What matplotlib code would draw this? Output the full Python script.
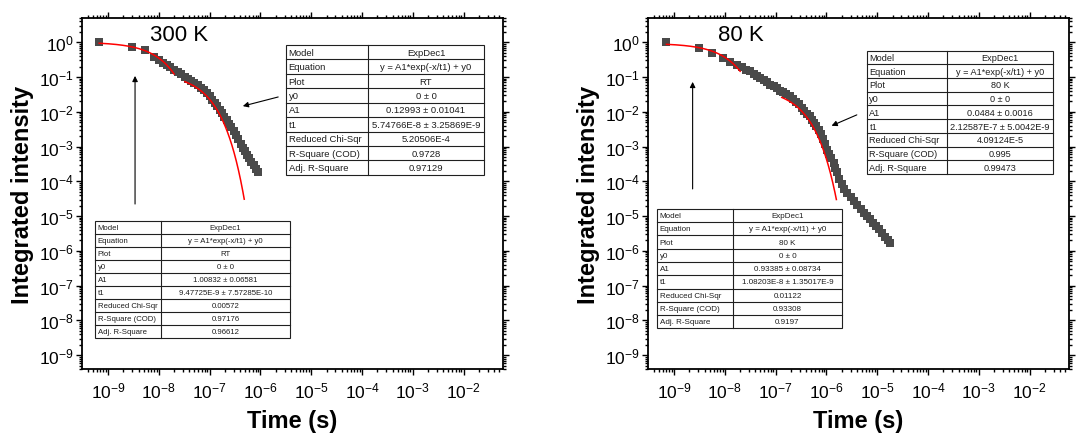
import numpy as np
import matplotlib
matplotlib.use("Agg")
import matplotlib.pyplot as plt
from matplotlib.ticker import LogLocator, NullFormatter, FixedLocator, LogFormatterSciNotation
from matplotlib.patches import Rectangle

plt.rcParams['font.family'] = ['Liberation Sans', 'DejaVu Sans']
plt.rcParams['mathtext.default'] = 'regular'

# ---------------- decay data ----------------
time_300K = [6.7e-10, 2.92e-9, 5.34e-9, 8.17e-9, 1.0e-8, 1.21e-8, 1.42e-8, 1.67e-8,
             2.0e-8, 2.34e-8, 2.75e-8, 3.25e-8, 3.75e-8, 4.34e-8, 5.0e-8, 5.84e-8,
             6.67e-8, 7.67e-8, 8.76e-8, 1.0e-7, 1.13e-7, 1.25e-7, 1.42e-7, 1.58e-7,
             1.75e-7, 1.96e-7, 2.17e-7, 2.42e-7, 2.67e-7, 3.0e-7, 3.34e-7, 3.67e-7,
             4.09e-7, 4.5e-7, 5.0e-7, 5.5e-7, 6.09e-7, 6.67e-7, 7.34e-7, 8.09e-7,
             9.0e-7]
intensity_300K = [1.0, 0.73, 0.59, 0.37, 0.31, 0.26, 0.22, 0.19,
                  0.16, 0.14, 0.12, 0.10, 0.088, 0.078, 0.068, 0.058,
                  0.049, 0.042, 0.035, 0.028, 0.022, 0.018, 0.0145, 0.0115,
                  0.0093, 0.0073, 0.0058, 0.0045, 0.0036, 0.0028, 0.0021, 0.0016,
                  0.0012, 9.2e-4, 7.3e-4, 5.8e-4, 4.6e-4, 3.7e-4, 2.9e-4, 2.3e-4,
                  1.8e-4]

time_80K = [7.1e-10, 3.09e-9, 5.67e-9, 9.09e-9, 1.27e-8, 1.75e-8, 2.17e-8, 2.59e-8,
            3.09e-8, 3.67e-8, 4.34e-8, 5.0e-8, 5.84e-8, 6.84e-8, 7.92e-8, 9.17e-8,
            1.06e-7, 1.23e-7, 1.42e-7, 1.63e-7, 1.88e-7, 2.17e-7, 2.5e-7, 2.84e-7,
            3.25e-7, 3.67e-7, 4.17e-7, 4.67e-7, 5.17e-7, 5.75e-7, 6.34e-7, 7.0e-7,
            7.76e-7, 8.59e-7, 9.34e-7, 1.02e-6, 1.13e-6, 1.25e-6, 1.38e-6, 1.5e-6,
            1.63e-6, 1.79e-6, 2.0e-6, 2.25e-6, 2.59e-6, 3.0e-6, 3.5e-6, 4.09e-6,
            4.75e-6, 5.5e-6, 6.34e-6, 7.26e-6, 8.34e-6, 9.59e-6, 1.1e-5, 1.25e-5,
            1.42e-5, 1.6e-5, 1.79e-5]
intensity_80K = [1.0, 0.68, 0.49, 0.35, 0.28, 0.225, 0.19, 0.165,
                 0.145, 0.125, 0.107, 0.094, 0.083, 0.071, 0.061, 0.054,
                 0.047, 0.041, 0.036, 0.032, 0.028, 0.023, 0.019, 0.0165,
                 0.013, 0.0107, 0.0088, 0.0075, 0.0060, 0.0047, 0.0038, 0.0030,
                 0.0023, 0.0016, 0.00115, 8.2e-4, 6.3e-4, 4.7e-4, 3.4e-4, 2.4e-4,
                 1.8e-4, 1.2e-4, 8.2e-5, 6.0e-5, 4.6e-5, 3.5e-5, 2.7e-5, 2.1e-5,
                 1.6e-5, 1.25e-5, 1.0e-5, 8.0e-6, 6.4e-6, 5.2e-6, 4.2e-6, 3.2e-6,
                 2.5e-6, 2.0e-6, 1.65e-6]

# ---------------- ExpDec1 fit results: y = A1*exp(-x/t1) + y0 ----------------
# order: y0, y0_err, A1, A1_err, t1, t1_err, chi2, r2, adj_r2, t_from, t_to
fit_300K_fast = [0.0, 0.0, 1.00832, 0.06581, 9.47725e-9, 7.57285e-10,
                 0.00572, 0.97176, 0.96612, 6.7e-10, 2.0e-8]
fit_300K_slow = [0.0, 0.0, 0.12993, 0.01041, 5.74766e-8, 3.25869e-9,
                 5.20506e-4, 0.9728, 0.97129, 3.25e-8, 4.8e-7]
fit_80K_fast = [0.0, 0.0, 0.93385, 0.08734, 1.08203e-8, 1.35017e-9,
                0.01122, 0.93308, 0.9197, 7.1e-10, 2.0e-8]
fit_80K_slow = [0.0, 0.0, 0.0484, 0.0016, 2.12587e-7, 5.0042e-9,
                4.09124e-5, 0.995, 0.99473, 1.32e-7, 1.57e-6]

# axis ranges and decade ticks
XLIM = (3.07e-10, 5.97e-2)
YLIM = (4e-10, 5.0)
X_TICKS = [1e-9, 1e-8, 1e-7, 1e-6, 1e-5, 1e-4, 1e-3, 1e-2]
Y_TICKS = [1e-9, 1e-8, 1e-7, 1e-6, 1e-5, 1e-4, 1e-3, 1e-2, 1e-1, 1e0]
MARKER_COLOR = '#4a4a4a'
TEXT_COLOR = '#1e1e1e'


def origin_fmt(v):
    """Number formatting in the style of the fit report."""
    if v != 0 and abs(v) < 1e-3:
        mant, exp = f"{v:.5E}".split('E')
        mant = mant.rstrip('0').rstrip('.')
        return f"{mant}E{int(exp)}"
    return f"{v:g}"


def report_rows(fit, plot_name):
    y0, y0e, a1, a1e, t1, t1e, chi2, r2, adj = fit[:9]
    return [("Model", "ExpDec1"),
            ("Equation", "y = A1*exp(-x/t1) + y0"),
            ("Plot", plot_name),
            ("y0", f"{origin_fmt(y0)} ± {origin_fmt(y0e)}"),
            ("A1", f"{origin_fmt(a1)} ± {origin_fmt(a1e)}"),
            ("t1", f"{origin_fmt(t1)} ± {origin_fmt(t1e)}"),
            ("Reduced Chi-Sqr", origin_fmt(chi2)),
            ("R-Square (COD)", origin_fmt(r2)),
            ("Adj. R-Square", origin_fmt(adj))]


def draw_report(ax, rows, x0, x1, xs, y0, y1, fs):
    """Draw a boxed two-column fit report in axes-fraction coordinates."""
    n = len(rows)
    rh = (y1 - y0) / n
    kw = dict(transform=ax.transAxes, clip_on=False, zorder=5)
    ax.add_patch(Rectangle((x0, y0), x1 - x0, y1 - y0, fill=True, fc='white',
                           ec='#202020', lw=0.8, **kw))
    ax.plot([xs, xs], [y0, y1], color='#202020', lw=0.8, **kw)
    for i in range(1, n):
        yy = y1 - i * rh
        ax.plot([x0, x1], [yy, yy], color='#202020', lw=0.8, **kw)
    for i, (name, val) in enumerate(rows):
        yc = y1 - (i + 0.5) * rh
        ax.text(x0 + 0.006, yc, name, ha='left', va='center', fontsize=fs,
                color=TEXT_COLOR, transform=ax.transAxes, zorder=6)
        ax.text((xs + x1) / 2, yc, val, ha='center', va='center', fontsize=fs,
                color=TEXT_COLOR, transform=ax.transAxes, zorder=6)


def fit_curve(ax, fit):
    y0, _, a1, _, t1, _ = fit[:6]
    t = np.logspace(np.log10(fit[9]), np.log10(fit[10]), 300)
    ax.plot(t, a1 * np.exp(-t / t1) + y0, color='red', lw=1.1, zorder=4)


def style_axes(ax):
    ax.set_xscale('log')
    ax.set_yscale('log')
    ax.set_xlim(*XLIM)
    ax.set_ylim(*YLIM)
    ax.xaxis.set_major_locator(FixedLocator(X_TICKS))
    ax.yaxis.set_major_locator(FixedLocator(Y_TICKS))
    for axis in (ax.xaxis, ax.yaxis):
        axis.set_major_formatter(LogFormatterSciNotation())
        axis.set_minor_locator(LogLocator(base=10, subs=np.arange(2, 10), numticks=200))
        axis.set_minor_formatter(NullFormatter())
    ax.tick_params(which='both', direction='out', top=True, right=True,
                   width=1.0, labelsize=12.5, colors='black')
    ax.tick_params(which='major', length=4.5)
    ax.tick_params(which='minor', length=2.5)
    ax.tick_params(axis='x', pad=4)
    ax.tick_params(axis='y', pad=1.5)
    for sp in ax.spines.values():
        sp.set_linewidth(1.3)
    ax.set_xlabel('Time (s)', fontsize=17, fontweight='bold')
    ax.set_ylabel('Integrated intensity', fontsize=17, fontweight='bold')
    ax.xaxis.set_label_coords(0.5, -0.115)
    ax.yaxis.set_label_coords(-0.115, 0.5)


def arrow(ax, tail, head):
    ax.annotate('', xy=head, xytext=tail, xycoords='axes fraction',
                textcoords='axes fraction',
                arrowprops=dict(arrowstyle='-|>', color='black', lw=0.8,
                                mutation_scale=8, shrinkA=0, shrinkB=0))


fig = plt.figure(figsize=(10.81, 4.35), dpi=100)
W, H = 1081, 435
ax1 = fig.add_axes([82 / W, 65 / H, 421 / W, 351 / H])
ax2 = fig.add_axes([648 / W, 65 / H, 421 / W, 351 / H])

# ---- 300 K panel ----
style_axes(ax1)
ax1.plot(time_300K, intensity_300K, 's', color=MARKER_COLOR, ms=6.0, mew=0, zorder=3)
fit_curve(ax1, fit_300K_fast)
fit_curve(ax1, fit_300K_slow)
ax1.text(0.162, 0.952, '300 K', transform=ax1.transAxes, fontsize=16,
         ha='left', va='center')
arrow(ax1, (0.126, 0.470), (0.126, 0.835))
arrow(ax1, (0.466, 0.775), (0.382, 0.749))
draw_report(ax1, report_rows(fit_300K_slow, 'RT'), 0.4846, 0.955, 0.679, 0.553, 0.923, 6.8)
draw_report(ax1, report_rows(fit_300K_fast, 'RT'), 0.0309, 0.494, 0.188, 0.0883, 0.4217, 5.6)

# ---- 80 K panel ----
style_axes(ax2)
ax2.plot(time_80K, intensity_80K, 's', color=MARKER_COLOR, ms=6.0, mew=0, zorder=3)
fit_curve(ax2, fit_80K_fast)
fit_curve(ax2, fit_80K_slow)
ax2.text(0.166, 0.952, '80 K', transform=ax2.transAxes, fontsize=16,
         ha='left', va='center')
arrow(ax2, (0.106, 0.513), (0.106, 0.818))
arrow(ax2, (0.496, 0.724), (0.436, 0.693))
draw_report(ax2, report_rows(fit_80K_slow, '80 K'), 0.520, 0.962, 0.710, 0.5556, 0.907, 6.6)
draw_report(ax2, report_rows(fit_80K_fast, '80 K'), 0.0214, 0.4608, 0.2019, 0.116, 0.456, 5.8)

fig.savefig('out.png', dpi=100)
